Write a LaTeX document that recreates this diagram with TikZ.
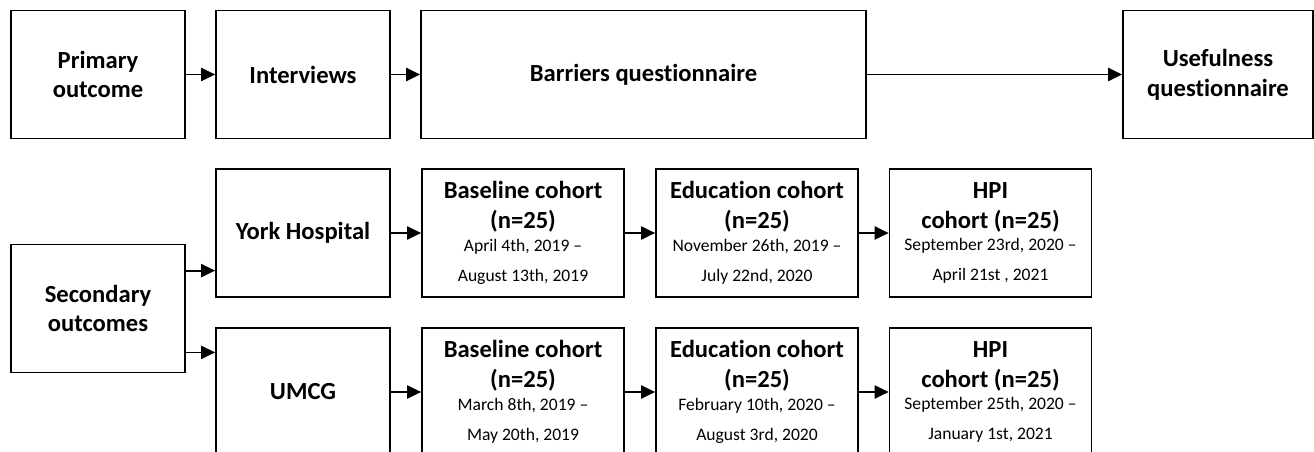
\documentclass[tikz,border=0pt]{standalone}
\usepackage{fontspec}
\setmainfont[Ligatures=NoCommon]{Carlito}
\usepackage{tikz}
\usetikzlibrary{arrows.meta, shapes}

\newcommand{\dates}[2]{{\fontsize{10}{12}\selectfont\mdseries #1}\\{\fontsize{10}{12}\selectfont\mdseries #2}}

\begin{document}
\begin{tikzpicture}
\useasboundingbox (0,0) rectangle (26.28,-9.04);
\clip (0,0) rectangle (26.28,-9.04);
\begin{scope}[every node/.style={rectangle,draw,line width=1pt,align=center,
    minimum width=3.48cm,minimum height=2.56cm,inner sep=1pt,
    font=\fontsize{14}{17}\selectfont\bfseries}]
  \node (P) at (1.96,-1.49) {Primary\\outcome};
    \node (I) at (6.06,-1.49) {Interviews};
    \node[minimum width=8.9cm] (B) at (12.87,-1.49) {Barriers questionnaire};
    \node[minimum width=3.8cm] (U) at (24.36,-1.49) {Usefulness\\questionnaire};
  \node (S) at (1.96,-6.17) {Secondary\\outcomes};
    \node (Y) at (6.06,-4.66) {York Hospital};
    \node (M) at (6.06,-7.84) {UMCG};
\end{scope}

\begin{scope}[every node/.style={rectangle,draw,line width=1pt,align=center,
    minimum width=4.04cm,minimum height=2.56cm,inner sep=1pt,
    font=\fontsize{14}{17}\selectfont\bfseries}]
    \node (Y1) at (10.46,-4.66) {Baseline cohort\\(n=25)\\[-4pt]\dates{April 4th, 2019 --}{August 13th, 2019}};
    \node (Y2) at (15.14,-4.66) {Education cohort\\(n=25)\\[-4pt]\dates{November 26th, 2019 --}{July 22nd, 2020}};
    \node (Y3) at (19.81,-4.66) {HPI\\cohort (n=25)\\[-4pt]\dates{September 23rd, 2020 --}{April 21st , 2021}};
    \node (M1) at (10.46,-7.84) {Baseline cohort\\(n=25)\\[-4pt]\dates{March 8th, 2019 --}{May 20th, 2019}};
    \node (M2) at (15.14,-7.84) {Education cohort\\(n=25)\\[-4pt]\dates{February 10th, 2020 --}{August 3rd, 2020}};
    \node (M3) at (19.81,-7.84) {HPI\\cohort (n=25)\\[-4pt]\dates{September 25th, 2020 --}{January 1st, 2021}};
\end{scope}

\begin{scope}[>={Triangle[black,length=8pt,width=7.5pt]},
              every edge/.style={draw=black, line width=1pt}]
    \path [->] (P) edge (I);
    \path [->] (I) edge (B);
    \path [->] (B) edge (U);
    \path [->] ([yshift=-0.54cm]S.north east) edge ([yshift=-0.54cm]S.north east -| Y.west);
    \path [->] ([yshift=0.42cm]S.south east) edge ([yshift=0.42cm]S.south east -| M.west);
    \path [->] (Y) edge (Y1);
    \path [->] (Y1) edge (Y2);
    \path [->] (Y2) edge (Y3);
    \path [->] (M) edge (M1);
    \path [->] (M1) edge (M2);
    \path [->] (M2) edge (M3);
\end{scope}

\end{tikzpicture}
\end{document}
